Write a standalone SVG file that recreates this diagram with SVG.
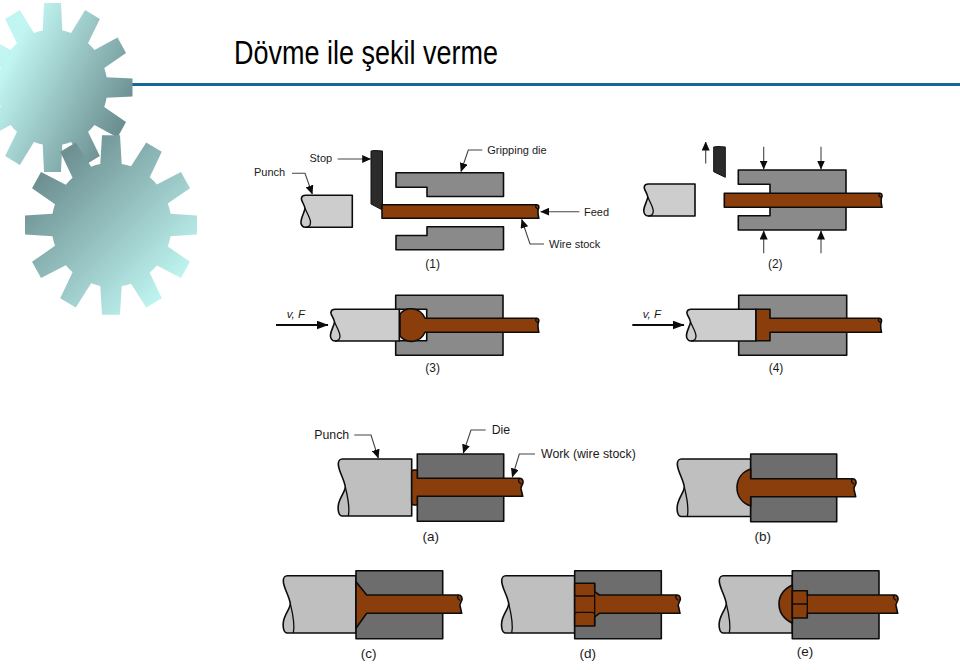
<svg xmlns="http://www.w3.org/2000/svg" xmlns:xlink="http://www.w3.org/1999/xlink" width="960" height="670" viewBox="0 0 960 670">
  <style>
    text { font-family: "Liberation Sans", Arial, sans-serif; fill: #1a1a1a; }
    .s { font-size: 11px; }
    .n { font-size: 12px; }
    .l { font-size: 12.3px; }
    .t { font-size: 13.500px; }
    .i { font-size: 11.500px; font-style: italic; }
    .c { text-anchor: middle; }
    .part { stroke: #0c0c0c; stroke-width: 1.600; stroke-linejoin: round; }
    .punch { fill: #cdcdcd; }
    .punch2 { fill: #bfbfbf; }
    .die { fill: #8a8a8a; }
    .die2 { fill: #6d6d6d; }
    .wire { fill: #8a3e0b; }
    .stop { fill: #2b2b2b; stroke: #111; stroke-width: 1; }
    .seam { fill: none; stroke: #0c0c0c; stroke-width: 1.300; }
    .lead { fill: none; stroke: #444; stroke-width: 1.100; marker-end: url(#head); }
    .push { fill: none; stroke: #0c0c0c; stroke-width: 1.800; marker-end: url(#headBig); }
  </style>
  <defs>
    <marker id="head" markerUnits="userSpaceOnUse" markerWidth="9" markerHeight="8" refX="8.500" refY="4" orient="auto">
      <path d="M0,0 L9,4 L0,8 Z" fill="#0c0c0c"/>
    </marker>
    <marker id="headBig" markerUnits="userSpaceOnUse" markerWidth="12" markerHeight="9" refX="11.500" refY="4.500" orient="auto">
      <path d="M0,0 L12,4.500 L0,9 Z" fill="#0c0c0c"/>
    </marker>
    <linearGradient id="gearFillA" gradientUnits="userSpaceOnUse" x1="10" y1="60" x2="125" y2="117">
      <stop offset="0" stop-color="#c0f5f1"/>
      <stop offset="1" stop-color="#6c8f91"/>
    </linearGradient>
    <linearGradient id="gearFillB" gradientUnits="userSpaceOnUse" x1="50" y1="170" x2="170" y2="290">
      <stop offset="0" stop-color="#6e9093"/>
      <stop offset="1" stop-color="#bff5f1"/>
    </linearGradient>
    <polygon id="toothA" points="-10,-50 -8.500,-80 8.500,-80 10,-50"/>
    <polygon id="toothB" points="-11,-54 -9,-86 9,-86 11,-54"/>
    <clipPath id="gearA">
      <ellipse cx="52.500" cy="87.500" rx="55" ry="58"/>
      <use xlink:href="#toothA" transform="translate(52.500 87.500) scale(1 1.055)"/>
      <use xlink:href="#toothA" transform="translate(52.500 87.500) scale(1 1.055) rotate(30)"/>
      <use xlink:href="#toothA" transform="translate(52.500 87.500) scale(1 1.055) rotate(60)"/>
      <use xlink:href="#toothA" transform="translate(52.500 87.500) scale(1 1.055) rotate(90)"/>
      <use xlink:href="#toothA" transform="translate(52.500 87.500) scale(1 1.055) rotate(120)"/>
      <use xlink:href="#toothA" transform="translate(52.500 87.500) scale(1 1.055) rotate(150)"/>
      <use xlink:href="#toothA" transform="translate(52.500 87.500) scale(1 1.055) rotate(180)"/>
      <use xlink:href="#toothA" transform="translate(52.500 87.500) scale(1 1.055) rotate(210)"/>
      <use xlink:href="#toothA" transform="translate(52.500 87.500) scale(1 1.055) rotate(240)"/>
      <use xlink:href="#toothA" transform="translate(52.500 87.500) scale(1 1.055) rotate(270)"/>
      <use xlink:href="#toothA" transform="translate(52.500 87.500) scale(1 1.055) rotate(300)"/>
      <use xlink:href="#toothA" transform="translate(52.500 87.500) scale(1 1.055) rotate(330)"/>
    </clipPath>
    <clipPath id="gearB">
      <ellipse cx="111.500" cy="225" rx="60" ry="62"/>
      <use xlink:href="#toothB" transform="translate(111 225) scale(1 1.045)"/>
      <use xlink:href="#toothB" transform="translate(111 225) scale(1 1.045) rotate(30)"/>
      <use xlink:href="#toothB" transform="translate(111 225) scale(1 1.045) rotate(60)"/>
      <use xlink:href="#toothB" transform="translate(111 225) scale(1 1.045) rotate(90)"/>
      <use xlink:href="#toothB" transform="translate(111 225) scale(1 1.045) rotate(120)"/>
      <use xlink:href="#toothB" transform="translate(111 225) scale(1 1.045) rotate(150)"/>
      <use xlink:href="#toothB" transform="translate(111 225) scale(1 1.045) rotate(180)"/>
      <use xlink:href="#toothB" transform="translate(111 225) scale(1 1.045) rotate(210)"/>
      <use xlink:href="#toothB" transform="translate(111 225) scale(1 1.045) rotate(240)"/>
      <use xlink:href="#toothB" transform="translate(111 225) scale(1 1.045) rotate(270)"/>
      <use xlink:href="#toothB" transform="translate(111 225) scale(1 1.045) rotate(300)"/>
      <use xlink:href="#toothB" transform="translate(111 225) scale(1 1.045) rotate(330)"/>
    </clipPath>
  </defs>

  <rect width="960" height="670" fill="#ffffff"/>

  <!-- decorative gears and title rule -->
  <rect id="titleRule" x="131" y="83" width="829" height="3" fill="#11689c"/>
  <rect id="gear1" x="-40" y="-10" width="190" height="195" fill="url(#gearFillA)" clip-path="url(#gearA)"/>
  <rect id="gear2" x="10" y="125" width="200" height="200" fill="url(#gearFillB)" clip-path="url(#gearB)"/>
  <text id="title" x="234" y="64" font-size="32.500" textLength="264" lengthAdjust="spacingAndGlyphs" style="fill:#000">Dövme ile şekil verme</text>

  <!-- step 1 -->
  <g id="step1">
    <path class="part punch" d="M305.500,195.300 H352.300 V227.300 H305.500 c-3,0 -5,-3 -4.500,-6 c.5,-5 3.500,-9 4,-13 c-.5,-4 -4.500,-8 -3.500,-10.500 c.5,-1.800 2,-2.500 4,-2.500 z"/>
    <path class="seam" d="M305,208.300 c1.500,4 5.500,10 5.500,14 c0,3 -2,5 -5,5"/>
    <polygon class="stop" points="371,151 375,150.500 382.500,151 382.500,207 381.500,209.500 371,204"/>
    <polygon class="part die" points="396,172.700 503.500,172.700 503.500,196.500 427,196.500 427,187.300 396,187.300"/>
    <polygon class="part die" points="427,226.700 503.500,226.700 503.500,249.700 396,249.700 396,235.500 427,235.500"/>
    <path class="part wire" d="M382,204.700 H536.800 c2,0 2.500,2.300 1.500,4.300 c-.5,2 -.5,5 .5,9.300 H382 Z"/>
    <path class="seam" d="M536.800,204.700 c-2,1.300 -1.500,3.300 1.500,4.300"/>
    <text class="s" x="254" y="176">Punch</text>
    <text class="s" x="309.500" y="162.300">Stop</text>
    <text class="s" x="487.300" y="154">Gripping die</text>
    <text class="s" x="584" y="215.700">Feed</text>
    <text class="s" x="549" y="247.700">Wire stock</text>
    <text class="n c" x="432.700" y="267.500">(1)</text>
  </g>

  <!-- step 2 -->
  <g id="step2">
    <path class="part punch" d="M648.300,184 H695 V216 H648.300 c-3,0 -5,-3 -4.500,-6 c.5,-5 3.500,-9 4,-13 c-.5,-4 -4.500,-8 -3.500,-10.500 c.5,-1.800 2,-2.500 4,-2.500 z"/>
    <path class="seam" d="M647.800,197 c1.500,4 5.500,10 5.500,14 c0,3 -2,5 -5,5"/>
    <polygon class="stop" points="713.700,147 718,146.500 725.300,147 725.300,177.300 713.700,171.700"/>
    <path class="part die" d="M738.300,170 H846 V230 H738.300 V215.700 H770 V184.300 H738.300 Z"/>
    <path class="part wire" d="M724.300,193.300 H880 c2,0 2.500,2.300 1.500,4.300 c-.5,2 -.5,5 .5,9.700 H724.300 Z"/>
    <path class="seam" d="M880,193.300 c-2,1.300 -1.500,3.300 1.500,4.300"/>
    <text class="n c" x="775.300" y="268">(2)</text>
  </g>

  <!-- step 3 -->
  <g id="step3">
    <rect class="part die" x="395.700" y="295.300" width="107.300" height="60"/>
    <rect class="part" fill="#fff" x="399.300" y="309.300" width="27.400" height="31.400"/>
    <path class="part punch" d="M335,309.300 H399.300 V341 H335 c-3,0 -5,-3 -4.500,-6 c.5,-5 3.500,-9 4,-13 c-.5,-4 -4.500,-8 -3.500,-10.200 c.5,-1.800 2,-2.500 4,-2.500 z"/>
    <path class="seam" d="M334.500,322 c1.500,4 5.500,10 5.500,14 c0,3 -2,5 -5,5"/>
    <path class="part wire" d="M425,318.300 H536.800 c2,0 2.500,2.300 1.500,4.300 c-.5,2 -.5,5 .5,9.700 H425 A15,15.500 0 0 1 400,336 V314 A15,15.500 0 0 1 425,318.300 Z"/>
    <path class="seam" d="M536.800,318.300 c-2,1.300 -1.500,3.300 1.500,4.300"/>
    <text class="i" x="286.700" y="318.300">v, F</text>
    <text class="n c" x="432.700" y="372">(3)</text>
  </g>

  <!-- step 4 -->
  <g id="step4">
    <rect class="part die" x="738.700" y="295.300" width="108" height="60"/>
    <path class="part punch" d="M691,309.300 H756 V341 H691 c-3,0 -5,-3 -4.500,-6 c.5,-5 3.500,-9 4,-13 c-.5,-4 -4.500,-8 -3.500,-10.200 c.5,-1.800 2,-2.500 4,-2.500 z"/>
    <path class="seam" d="M690.500,322 c1.500,4 5.500,10 5.500,14 c0,3 -2,5 -5,5"/>
    <path class="part wire" d="M756,309.300 H770 V318.300 H879.500 c2,0 2.500,2.300 1.500,4.300 c-.5,2 -.5,5 .5,9.700 H770 V340.700 H756 Z"/>
    <path class="seam" d="M879.500,318.300 c-2,1.300 -1.500,3.300 1.500,4.300"/>
    <text class="i" x="642.700" y="318.300">v, F</text>
    <text class="n c" x="776" y="372">(4)</text>
  </g>

  <!-- stage a -->
  <g id="stageA">
    <path class="part punch2" d="M342.300,459 H411.700 V516 H342.300 c-4,0 -4.500,-6.700 -4,-10.700 c1,-8 7,-13.300 7,-18.300 c-1,-8 -7,-16 -7,-23 c0,-3 2,-5 4,-5 z"/>
    <path class="seam" d="M345.300,487 c2,8 5,20 3,29"/>
    <rect class="part die2" x="417.300" y="454" width="86.400" height="67.300"/>
    <path class="part wire" d="M417.300,478.300 H519.700 c3,0 3.800,3 3,5.500 c-.8,2 -2.500,3.500 -1.500,6 l1.500,6.500 H417.300 V505 H414 c-1.500,0 -2.300,-1 -2.300,-2.500 V472.500 c0,-1.500 .8,-2.500 2.300,-2.500 H417.300 Z"/>
    <path class="seam" d="M519.700,478.300 c-2,2 -1.500,4 1.500,5.500"/>
    <text class="l" x="314.300" y="438.700">Punch</text>
    <text class="l" x="491.700" y="434.300">Die</text>
    <text class="l" x="541" y="457.700">Work (wire stock)</text>
    <text class="t c" x="430.700" y="540.700">(a)</text>
  </g>

  <!-- stage b -->
  <g id="stageB">
    <path class="part punch2" d="M681.300,459 H750.700 V516.500 H681.300 c-4,0 -4.500,-6.700 -4,-10.700 c1,-8 7,-13.800 7,-18.800 c-1,-8 -7,-16 -7,-23 c0,-3 2,-5 4,-5 z"/>
    <path class="seam" d="M684.300,487 c2,8 5,20 3,29.500"/>
    <rect class="part die2" x="750.700" y="454" width="86" height="67.700"/>
    <path class="part wire" d="M750.700,469 V478.700 H852.700 c3,0 3.800,3 3,5.500 c-.8,2 -2.500,3.500 -1.500,6 l1.500,6.500 H750.700 V506 C742,503 737,496 737,487.500 C737,479 742,472 750.700,469 Z"/>
    <path class="seam" d="M852.700,478.700 c-2,2 -1.500,4 1.500,5.500"/>
    <text class="t c" x="762.700" y="540.700">(b)</text>
  </g>

  <!-- stage c -->
  <g id="stageC">
    <path class="part punch2" d="M287.300,575.700 H356 V633 H287.300 c-4,0 -4.500,-6.700 -4,-10.700 c1,-8 7,-13.600 7,-18.600 c-1,-8 -7,-16 -7,-23 c0,-3 2,-5 4,-5 z"/>
    <path class="seam" d="M290.300,603.700 c2,8 5,20 3,29.300"/>
    <rect class="part die2" x="356" y="570.700" width="86.700" height="68"/>
    <path class="part wire" d="M356,581.700 L366.700,595 H458.700 c3,0 3.800,3 3,5.500 c-.8,2 -2.500,3.500 -1.500,6 l1.500,6.800 H366.700 L356,628.300 Z"/>
    <path class="seam" d="M458.700,595 c-2,2 -1.500,4 1.500,5.500"/>
    <text class="t c" x="368.700" y="657.700">(c)</text>
  </g>

  <!-- stage d -->
  <g id="stageD">
    <path class="part punch2" d="M505.700,575.700 H574.700 V633 H505.700 c-4,0 -4.500,-6.700 -4,-10.700 c1,-8 7,-13.600 7,-18.600 c-1,-8 -7,-16 -7,-23 c0,-3 2,-5 4,-5 z"/>
    <path class="seam" d="M508.700,603.700 c2,8 5,20 3,29.300"/>
    <rect class="part die2" x="574.700" y="570.700" width="86.600" height="68"/>
    <path class="part wire" d="M574.700,583.300 H594.700 V591.700 L599.300,595 H677 c3,0 3.800,3 3,5.500 c-.8,2 -2.500,3.500 -1.500,6 l1.500,6.800 H599.300 L594.700,617 V626 H574.700 Z"/>
    <path class="seam" d="M594.700,583.300 V626 M574.700,595 l2,1 H592.700 l2,-1 M574.700,613.300 l2,-1 H592.700 l2,1"/>
    <path class="seam" d="M677,595 c-2,2 -1.500,4 1.500,5.500"/>
    <text class="t c" x="587.700" y="657.700">(d)</text>
  </g>

  <!-- stage e -->
  <g id="stageE">
    <path class="part punch2" d="M723.300,575.700 H792.300 V633 H723.300 c-4,0 -4.500,-6.700 -4,-10.700 c1,-8 7,-13.600 7,-18.600 c-1,-8 -7,-16 -7,-23 c0,-3 2,-5 4,-5 z"/>
    <path class="seam" d="M726.300,603.700 c2,8 5,20 3,29.300"/>
    <rect class="part die2" x="792.300" y="570.700" width="86.700" height="68"/>
    <path class="part wire" d="M792.300,585 C784,589 779,596 779,604 C779,612 784,619 792.300,623.300 Z"/>
    <path class="part wire" d="M792.300,590.700 H807.300 V595 H894.700 c3,0 3.800,3 3,5.500 c-.8,2 -2.500,3.500 -1.500,6 l1.500,6.800 H807.300 V618 H792.300 Z"/>
    <path class="seam" d="M792.300,604 H807.300 M807.300,590.700 V618"/>
    <path class="seam" d="M894.700,595 c-2,2 -1.500,4 1.500,5.500"/>
    <text class="t c" x="805" y="655.700">(e)</text>
  </g>

  <!-- leaders and force arrows -->
  <g id="connectors">
    <path class="lead" d="M292,173.300 H305 L312.300,194"/>
    <path class="lead" d="M337.700,159 H370.700"/>
    <path class="lead" d="M482.300,150 H468.300 L461,171.500"/>
    <path class="lead" d="M579.300,211.700 H540.700"/>
    <path class="lead" d="M544,244 H530 L521.700,219.500"/>
    <path class="lead" d="M705.700,163.500 V142"/>
    <path class="lead" d="M763.700,146.700 V169"/>
    <path class="lead" d="M821,146.700 V169"/>
    <path class="lead" d="M763.700,253.300 V231"/>
    <path class="lead" d="M821,253.300 V231"/>
    <path class="push" d="M276,325 H328"/>
    <path class="push" d="M632.300,325 H684"/>
    <path class="lead" d="M354.300,435 H371 L378.300,458"/>
    <path class="lead" d="M485.700,430 H471 L463.300,453"/>
    <path class="lead" d="M535,454 H519.300 L512.300,477"/>
  </g>
</svg>
